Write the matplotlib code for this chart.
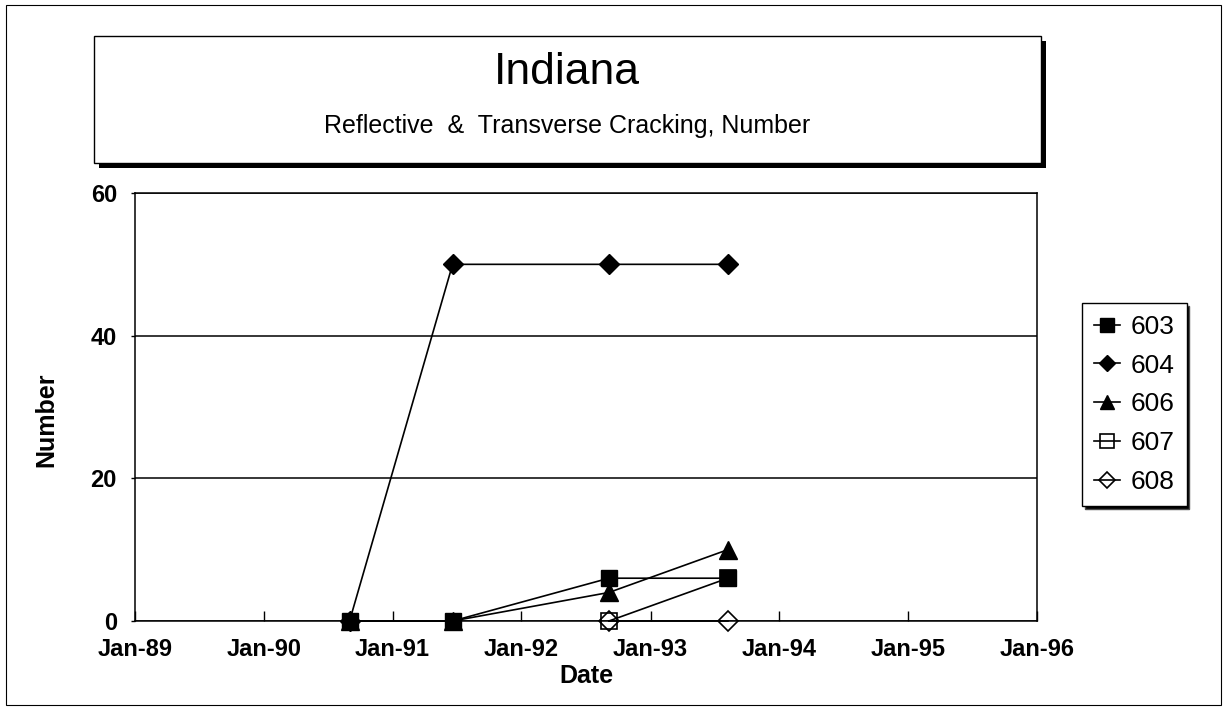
import datetime as dt
import matplotlib
matplotlib.use("Agg")
import matplotlib.pyplot as plt
import matplotlib.dates as mdates
from matplotlib.patches import Rectangle

plt.rcParams['font.family'] = ['Liberation Sans', 'DejaVu Sans']

# survey dates
dates_603 = [dt.date(1990, 9, 1), dt.date(1991, 6, 20), dt.date(1992, 9, 5), dt.date(1993, 8, 8)]
vals_603 = [0, 0, 6, 6]
dates_604 = [dt.date(1990, 9, 1), dt.date(1991, 6, 20), dt.date(1992, 9, 5), dt.date(1993, 8, 8)]
vals_604 = [0, 50, 50, 50]
dates_606 = [dt.date(1990, 9, 1), dt.date(1991, 6, 20), dt.date(1992, 9, 5), dt.date(1993, 8, 8)]
vals_606 = [0, 0, 4, 10]
dates_607 = [dt.date(1992, 9, 5), dt.date(1993, 8, 8)]
vals_607 = [0, 6]
dates_608 = [dt.date(1992, 9, 5), dt.date(1993, 8, 8)]
vals_608 = [0, 0]

year_ticks = [dt.date(y, 1, 1) for y in range(1989, 1997)]

W, H = 1227, 707
fig = plt.figure(figsize=(W / 100, H / 100), dpi=100)
fig.patch.set_facecolor('white')


def px(x0, y0, x1, y1):
    # pixel box -> figure fraction [left, bottom, width, height]
    return [x0 / W, 1 - y1 / H, (x1 - x0) / W, (y1 - y0) / H]


ax = fig.add_axes(px(135, 193, 1037, 621))

common = dict(color='black', lw=1.2, clip_on=False)
ax.plot(dates_603, vals_603, marker='s', ms=12, mfc='black', mec='black',
        label='603', zorder=5, **common)
ax.plot(dates_604, vals_604, marker='D', ms=10, mfc='black', mec='black',
        label='604', zorder=4, **common)
ax.plot(dates_606, vals_606, marker='^', ms=13, mfc='black', mec='black',
        label='606', zorder=4, **common)
ax.plot(dates_607, vals_607, marker='s', ms=12, mfc='none', mec='black',
        mew=1.2, label='607', zorder=6, **common)
ax.plot(dates_608, vals_608, marker='D', ms=10, mfc='none', mec='black',
        mew=1.2, label='608', zorder=6, **common)

ax.set_xlim(year_ticks[0], year_ticks[-1])
ax.set_ylim(0, 60)
ax.set_xticks(year_ticks)
ax.xaxis.set_major_formatter(mdates.DateFormatter('%b-%y'))
ax.set_yticks([0, 20, 40, 60])
ax.grid(axis='y', color='black', lw=1.1)
ax.set_axisbelow(True)
for s in ax.spines.values():
    s.set_linewidth(1.1)
ax.tick_params(axis='x', direction='in', length=7, width=1, pad=12, labelsize=17)
ax.tick_params(axis='y', direction='out', length=3, width=1, pad=10, labelsize=17)
for lab in ax.get_xticklabels() + ax.get_yticklabels():
    lab.set_fontweight('bold')

ax.set_xlabel('Date', fontsize=18, fontweight='bold')
ax.set_ylabel('Number', fontsize=18, fontweight='bold')
ax.xaxis.set_label_coords(0.5, -0.10)
ax.yaxis.set_label_coords(-0.0854, 0.47)

leg = ax.legend(loc='upper left', bbox_to_anchor=(1082 / W, 1 - 303 / H),
                bbox_transform=fig.transFigure, borderaxespad=0, fontsize=19,
                frameon=True, fancybox=False, edgecolor='black', borderpad=0.45,
                labelspacing=0.56, handlelength=1.0, handletextpad=0.4,
                markerscale=0.8,
                shadow={'facecolor': 'black', 'alpha': 1})
leg.get_frame().set_linewidth(1.0)

# title box with drop shadow
fig.patches.append(Rectangle(px(99, 41, 1046, 168)[:2], 947 / W, 127 / H,
                             transform=fig.transFigure, facecolor='black',
                             edgecolor='none', zorder=0))
fig.patches.append(Rectangle(px(94, 36, 1041, 163)[:2], 947 / W, 127 / H,
                             transform=fig.transFigure, facecolor='white',
                             edgecolor='black', lw=1, zorder=1))
fig.text(567 / W, 1 - 72 / H, 'Indiana', ha='center', va='center', fontsize=32)
fig.text(567 / W, 1 - 126 / H, 'Reflective  &  Transverse Cracking, Number',
         ha='center', va='center', fontsize=18)

# outer frame
fig.patches.append(Rectangle((6 / W, 1 - 705 / H), 1215 / W, 700 / H,
                             transform=fig.transFigure, facecolor='none',
                             edgecolor='black', lw=0.8, zorder=0))

fig.savefig('out.png', dpi=100)
